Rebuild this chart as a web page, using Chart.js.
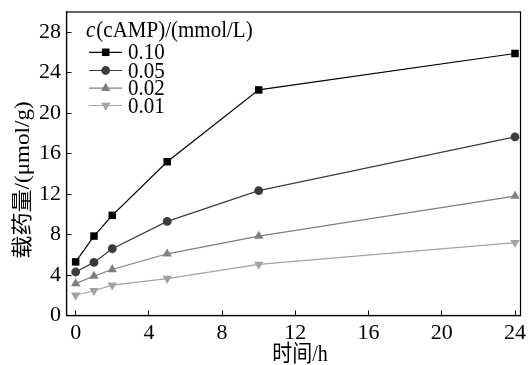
<!DOCTYPE html>
<html><head><meta charset="utf-8">
<script src="https://cdn.jsdelivr.net/npm/chart.js@4/dist/chart.umd.min.js"></script>
<style>html,body{margin:0;padding:0;background:#fff}#wrap{width:529px;height:365px}</style>
</head><body><div id="wrap"><canvas id="c" width="529" height="365"></canvas></div>
<script>
const timeH = [0, 1, 2, 5, 10, 24];
const seriesLabels = ['0.10', '0.05', '0.02', '0.01'];
const s010 = [5.3, 7.85, 9.9, 15.2, 22.3, 25.9];
const s005 = [4.3, 5.25, 6.6, 9.3, 12.35, 17.65];
const s002 = [3.15, 3.9, 4.55, 6.1, 7.85, 11.8];
const s001 = [2.0, 2.45, 3.0, 3.65, 5.05, 7.2];
const xTicks = [0, 4, 8, 12, 16, 20, 24];
const yTicks = [0, 4, 8, 12, 16, 20, 24, 28];
const legendTitleItalic = 'c';
const legendTitleRest = '(cAMP)/(mmol/L)';
const xTitle = '时间/h';
const yTitle = '载药量/(μmol/g)';

const SERIF = '"Liberation Serif", "Noto Sans CJK SC", serif';
const colors = ['#000000', '#3c3c3c', '#7f7f7f', '#a3a3a3'];
const styles = ['rect', 'circle', 'triangle', 'triangle'];
const rotations = [0, 0, 0, 180];
const radii = [5.3, 4.4, 5.4, 5.4];
const values = [s010, s005, s002, s001];

const datasets = values.map((v, i) => ({
  label: seriesLabels[i],
  data: timeH.map((t, k) => ({x: t, y: v[k]})),
  borderColor: colors[i],
  backgroundColor: colors[i],
  borderWidth: 1.2,
  pointStyle: styles[i],
  pointRotation: rotations[i],
  pointRadius: radii[i],
  pointBorderWidth: 0,
  pointBackgroundColor: colors[i],
  tension: 0,
  clip: false
}));

function stretchedText(ctx, text, x, y, sx, sy) {
  ctx.save();
  ctx.translate(x, y);
  ctx.scale(sx, sy);
  ctx.fillText(text, 0, 0);
  ctx.restore();
}

const framePlugin = {
  id: 'frame',
  afterDraw(chart) {
    const ctx = chart.ctx, a = chart.chartArea;
    ctx.save();
    ctx.strokeStyle = '#000';
    ctx.lineWidth = 1.2;
    ctx.strokeRect(a.left, a.top, a.right - a.left, a.bottom - a.top);
    // axis titles
    ctx.fillStyle = '#000';
    ctx.font = '20px ' + SERIF;
    ctx.textAlign = 'center';
    ctx.textBaseline = 'middle';
    stretchedText(ctx, xTitle, 300, 355, 1, 1.12);
    ctx.save();
    ctx.translate(23, 180);
    ctx.rotate(-Math.PI / 2);
    ctx.font = '21px ' + SERIF;
    stretchedText(ctx, yTitle, 0, 0, 1.1, 1);
    ctx.restore();
    ctx.restore();
    // legend
    ctx.save();
    ctx.fillStyle = '#000';
    ctx.textBaseline = 'middle';
    ctx.textAlign = 'left';
    ctx.font = 'italic 21px ' + SERIF;
    const tx = 86;
    stretchedText(ctx, legendTitleItalic, tx, 31, 1, 1.12);
    const w = ctx.measureText(legendTitleItalic).width;
    ctx.font = '21px ' + SERIF;
    stretchedText(ctx, legendTitleRest, tx + w + 1, 31, 1, 1.12);
    const rowY = [52.3, 70.5, 88.2, 105.5];
    chart.data.datasets.forEach((ds, i) => {
      const y = rowY[i];
      ctx.strokeStyle = ds.borderColor;
      ctx.lineWidth = 1.2;
      ctx.beginPath();
      ctx.moveTo(89, y);
      ctx.lineTo(122, y);
      ctx.stroke();
      ctx.fillStyle = ds.pointBackgroundColor;
      ctx.strokeStyle = ds.pointBackgroundColor;
      Chart.helpers.drawPoint(ctx, {pointStyle: ds.pointStyle, rotation: ds.pointRotation, radius: ds.pointRadius, borderWidth: 0}, 105.7, y);
      ctx.fillStyle = '#000';
      ctx.font = '21px ' + SERIF;
      stretchedText(ctx, ds.label, 128, y + 1, 1, 1.12);
    });
    ctx.restore();
  }
};

new Chart(document.getElementById('c'), {
  type: 'line',
  data: {datasets},
  options: {
    responsive: false,
    devicePixelRatio: 1,
    animation: false,
    layout: {padding: {top: 12, right: 8.5, left: 0, bottom: 0}},
    plugins: {legend: {display: false}, tooltip: {enabled: false}},
    scales: {
      x: {
        type: 'linear', min: -0.5, max: 24.3,
        afterBuildTicks(s) { s.ticks = xTicks.map(v => ({value: v})); },
        afterFit(s) { s.height = 49.5; s.paddingLeft = 0; s.paddingRight = 0; },
        grid: {drawOnChartArea: false, tickLength: -5, color: '#000', lineWidth: 1},
        border: {display: true, color: '#000', width: 1.2},
        ticks: {color: '#000', font: {family: SERIF, size: 22}, padding: 10, maxRotation: 0, autoSkip: false}
      },
      y: {
        type: 'linear', min: 0, max: 30,
        afterBuildTicks(s) { s.ticks = yTicks.map(v => ({value: v})); },
        afterFit(s) { s.width = 66.5; s.paddingTop = 0; s.paddingBottom = 0; },
        grid: {drawOnChartArea: false, tickLength: -5, color: '#000', lineWidth: 1},
        border: {display: true, color: '#000', width: 1.2},
        ticks: {color: '#000', font: {family: SERIF, size: 22}, padding: 10.5, autoSkip: false}
      }
    }
  },
  plugins: [framePlugin]
});
</script></body></html>
